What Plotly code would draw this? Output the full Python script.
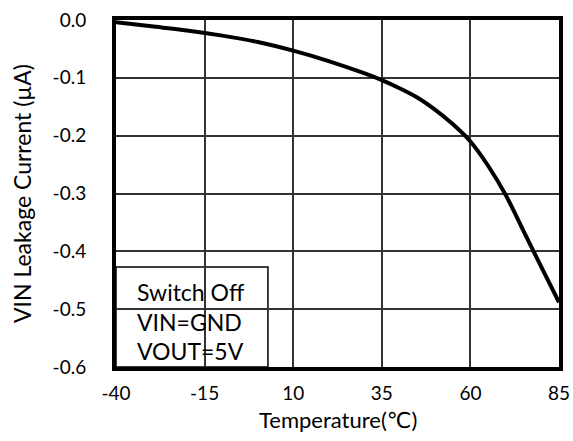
import plotly.graph_objects as go

temperature = [-40, -30, -20, -10, 0, 10, 20, 30, 35, 40, 45, 50, 55, 60, 65, 70, 75, 80, 85]
leakage_uA = [-0.004, -0.011, -0.018, -0.027, -0.038, -0.053, -0.071, -0.092, -0.104, -0.118,
              -0.134, -0.155, -0.180, -0.210, -0.252, -0.303, -0.365, -0.427, -0.488]
x_ticks = [-40, -15, 10, 35, 60, 85]
y_ticks = [0.0, -0.1, -0.2, -0.3, -0.4, -0.5, -0.6]
note_lines = ["Switch Off", "VIN=GND", "VOUT=5V"]
x_title = "Temperature(℃)"
y_title = "VIN Leakage Current (µA)"

FONT = "Lato, 'DejaVu Sans', sans-serif"

fig = go.Figure()
fig.add_trace(go.Scatter(x=temperature, y=leakage_uA, mode="lines",
                         line=dict(color="black", width=4, shape="spline", smoothing=0.9),
                         showlegend=False, hoverinfo="skip"))

fig.add_shape(type="rect", xref="paper", yref="paper", x0=0, x1=0.343, y0=0, y1=0.288,
              line=dict(color="black", width=1.5), fillcolor="white", layer="between")
for i, line in enumerate(note_lines):
    fig.add_annotation(xref="paper", yref="paper", x=0.043, y=0.215 - i * 0.085,
                       xanchor="left", yanchor="middle", showarrow=False, text=line,
                       font=dict(family=FONT, size=23, color="black"))

fig.add_annotation(xref="paper", yref="paper", x=0.5, y=-0.152, xanchor="center", yanchor="middle",
                   showarrow=False, text=x_title, font=dict(family=FONT, size=22, color="black"))

fig.update_xaxes(range=[-40, 85], tickmode="array", tickvals=x_ticks,
                 ticktext=[str(v) for v in x_ticks],
                 showgrid=True, gridcolor="#333333", gridwidth=1.5,
                 showline=True, linecolor="black", linewidth=4, mirror=True,
                 ticks="", ticklabelstandoff=6, zeroline=False, automargin=False,
                 tickfont=dict(family=FONT, size=19, color="black"))
fig.update_yaxes(range=[-0.6, 0.0], tickmode="array", tickvals=y_ticks,
                 ticktext=[f"{v:.1f}" if v != 0 else "0.0" for v in y_ticks],
                 showgrid=True, gridcolor="#333333", gridwidth=1.5,
                 showline=True, linecolor="black", linewidth=4, mirror=True,
                 ticks="", ticklabelstandoff=22, zeroline=False, automargin=False,
                 tickfont=dict(family=FONT, size=19, color="black"),
                 title=dict(text=y_title, font=dict(family=FONT, size=23, color="black"), standoff=16))

fig.update_layout(width=573, height=441, margin=dict(l=116, r=14, t=20, b=74),
                  plot_bgcolor="white", paper_bgcolor="white",
                  font=dict(family=FONT, color="black"))

fig.write_html("out.html", config={"displayModeBar": False},
               post_script="document.body.style.margin='0';document.body.style.overflow='hidden';")
